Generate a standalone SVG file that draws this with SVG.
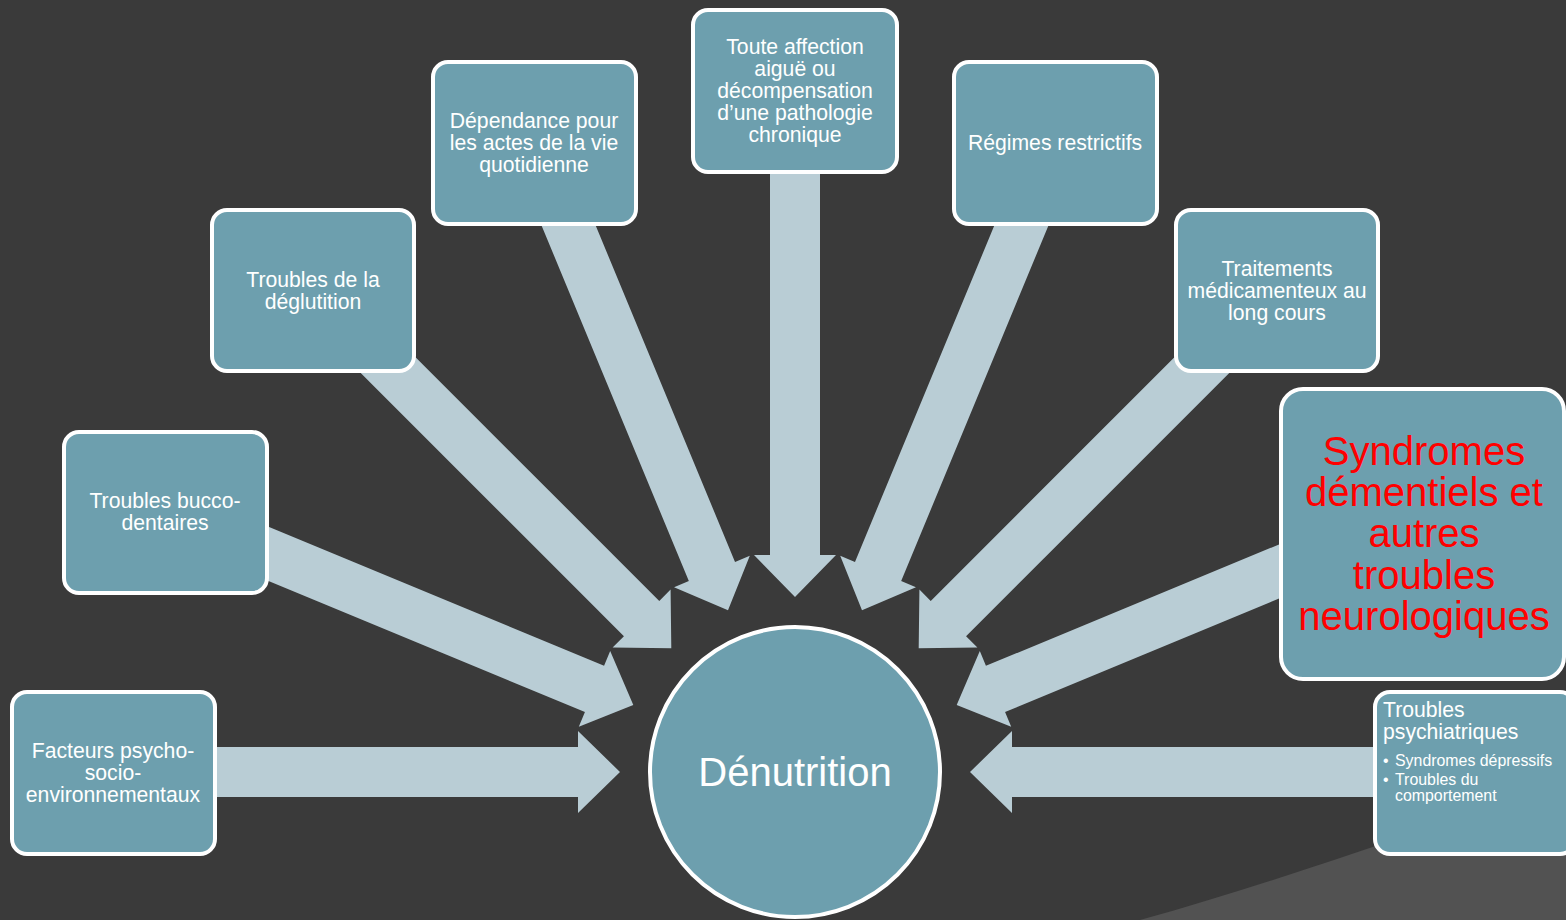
<svg xmlns="http://www.w3.org/2000/svg" width="1566" height="920" viewBox="0 0 1566 920">
<defs>
<style>
.box{fill:#6d9fae;stroke:#ffffff;stroke-width:4}
.arr{fill:#b9cdd5}
.t{font-family:"Liberation Sans",Arial,sans-serif;font-size:21.2px;fill:#ffffff;text-anchor:middle}
.red{font-family:"Liberation Sans",Arial,sans-serif;font-size:40px;fill:#ff0000;text-anchor:middle}
.big{font-family:"Liberation Sans",Arial,sans-serif;font-size:40px;fill:#ffffff;text-anchor:middle}
.l{font-family:"Liberation Sans",Arial,sans-serif;fill:#ffffff}
</style>
<path id="a" d="M-480,-25 L-42,-25 L-42,-41 L0,0 L-42,41 L-42,25 L-480,25 Z"/>
</defs>
<rect width="1566" height="920" fill="#3a3a3a"/>
<path d="M1140,920 C1230,895 1310,868 1400,838 L1566,780 L1566,920 Z" fill="#525252"/>
<g id="connectors">
<use href="#a" class="arr" transform="translate(620,772) rotate(0)"/>
<use href="#a" class="arr" transform="translate(633.3,705) rotate(22.5)"/>
<use href="#a" class="arr" transform="translate(671.3,648.3) rotate(45)"/>
<use href="#a" class="arr" transform="translate(728,610.3) rotate(67.5)"/>
<use href="#a" class="arr" transform="translate(795,597) rotate(90)"/>
<use href="#a" class="arr" transform="translate(862,610.3) rotate(112.5)"/>
<use href="#a" class="arr" transform="translate(918.7,648.3) rotate(135)"/>
<use href="#a" class="arr" transform="translate(956.7,705) rotate(157.5)"/>
<use href="#a" class="arr" transform="translate(970,772) rotate(180)"/>
</g>
<g id="n-facteurs">
<rect class="box" x="12" y="692" width="203" height="162" rx="15"/>
<text class="t" x="113" y="758">Facteurs psycho-</text>
<text class="t" x="113" y="780">socio-</text>
<text class="t" x="113" y="802">environnementaux</text>
</g>
<g id="n-bucco">
<rect class="box" x="64" y="432" width="203" height="161" rx="15"/>
<text class="t" x="165" y="508">Troubles bucco-</text>
<text class="t" x="165" y="530">dentaires</text>
</g>
<g id="n-deglutition">
<rect class="box" x="212" y="210" width="202" height="161" rx="15"/>
<text class="t" x="313" y="287">Troubles de la</text>
<text class="t" x="313" y="309">déglutition</text>
</g>
<g id="n-dependance">
<rect class="box" x="433" y="62" width="203" height="162" rx="15"/>
<text class="t" x="534" y="128">Dépendance pour</text>
<text class="t" x="534" y="150">les actes de la vie</text>
<text class="t" x="534" y="172">quotidienne</text>
</g>
<g id="n-affection">
<rect class="box" x="693" y="10" width="204" height="162" rx="15"/>
<text class="t" x="795" y="54">Toute affection</text>
<text class="t" x="795" y="76">aiguë ou</text>
<text class="t" x="795" y="98">décompensation</text>
<text class="t" x="795" y="120">d’une pathologie</text>
<text class="t" x="795" y="142">chronique</text>
</g>
<g id="n-regimes">
<rect class="box" x="954" y="62" width="203" height="162" rx="15"/>
<text class="t" x="1055" y="150">Régimes restrictifs</text>
</g>
<g id="n-traitements">
<rect class="box" x="1176" y="210" width="202" height="161" rx="15"/>
<text class="t" x="1277" y="276">Traitements</text>
<text class="t" x="1277" y="298">médicamenteux au</text>
<text class="t" x="1277" y="320">long cours</text>
</g>
<g id="n-syndromes">
<rect class="box" x="1281" y="389" width="283" height="290" rx="22"/>
<text class="red" x="1424" y="465">Syndromes</text>
<text class="red" x="1424" y="506">démentiels et</text>
<text class="red" x="1424" y="547">autres</text>
<text class="red" x="1424" y="589">troubles</text>
<text class="red" x="1424" y="630">neurologiques</text>
</g>
<g id="n-psych">
<rect class="box" x="1375" y="692" width="200" height="162" rx="15"/>
<text class="l" x="1383" y="717" font-size="21.2">Troubles</text>
<text class="l" x="1383" y="739" font-size="21.2">psychiatriques</text>
<text class="l" x="1383" y="766" font-size="15.9">•</text>
<text class="l" x="1395" y="766" font-size="15.9">Syndromes dépressifs</text>
<text class="l" x="1383" y="785" font-size="15.9">•</text>
<text class="l" x="1395" y="785" font-size="15.9">Troubles du</text>
<text class="l" x="1395" y="801" font-size="15.9">comportement</text>
</g>
<g id="n-denutrition">
<circle class="box" cx="795" cy="772" r="145"/>
<text class="big" x="795" y="786">Dénutrition</text>
</g>
</svg>
